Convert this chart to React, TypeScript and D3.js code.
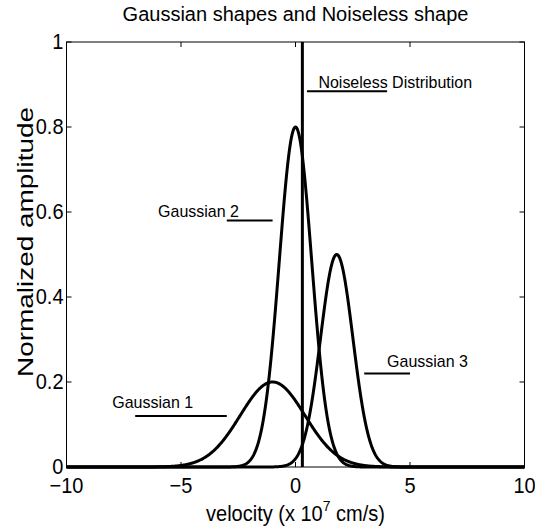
import React from "react";
import * as d3 from "d3";

// ---- data ----
const gaussianNames = ["Gaussian 1", "Gaussian 2", "Gaussian 3"];
const gaussianAmplitudes = [0.2, 0.8, 0.5];
const gaussianCenters = [-1, 0, 1.8];
const gaussianWidths = [2, 1, 1];
const noiselessVelocity = 0.3;
const noiselessAmplitude = 1;

const xTicks = [-10, -5, 0, 5, 10];
const yTicks = [0, 0.2, 0.4, 0.6, 0.8, 1];

// annotation labels (data coords): text anchor and underline segment
const annotationTexts = ["Gaussian 1", "Gaussian 2", "Gaussian 3", "Noiseless Distribution"];
const annotationTextX = [-8, -6, 4, 1];
const annotationTextY = [0.139, 0.588, 0.236, 0.892];
const annotationLineX0 = [-7, -3, 3, 0.5];
const annotationLineX1 = [-3, -1, 5, 4];
const annotationLineY = [0.12, 0.58, 0.22, 0.884];

const W = 535;
const H = 531;
const left = 66.5;
const right = 524.5;
const top = 42;
const bottom = 467;
const FONT = "'Liberation Sans', Arial, Helvetica, sans-serif";

export default function App() {
  const x = d3.scaleLinear().domain([-10, 10]).range([left, right]);
  const y = d3.scaleLinear().domain([0, 1]).range([bottom, top]);

  const samples = d3.range(-10, 10.0001, 0.02);
  const line = d3
    .line<[number, number]>()
    .x((d) => x(d[0]))
    .y((d) => y(d[1]));

  const curves = gaussianNames.map((name, i) => {
    const pts: [number, number][] = samples.map((v) => [
      v,
      gaussianAmplitudes[i] *
        Math.exp(-Math.pow((v - gaussianCenters[i]) / gaussianWidths[i], 2)),
    ]);
    return { name, d: line(pts) || "" };
  });

  const tickLen = 5;
  const fmtY = (v: number) => String(v);
  const fmtX = (v: number) => (v < 0 ? "\u2212" + Math.abs(v) : String(v));
  const sy = 1.1;

  return (
    <svg
      width={W}
      height={H}
      style={{ position: "absolute", left: 0, top: 0, background: "#fff" }}
      fontFamily={FONT}
    >
      <rect x={0} y={0} width={W} height={H} fill="#fff" />
      {/* title */}
      <text x={(left + right) / 2} y={21} fontSize={20} textAnchor="middle" fill="#000">
        Gaussian shapes and Noiseless shape
      </text>

      {/* curves */}
      {curves.map((c) => (
        <path key={c.name} d={c.d} fill="none" stroke="#000" strokeWidth={3} strokeLinejoin="round" />
      ))}
      {/* noiseless distribution */}
      <line
        x1={x(noiselessVelocity)}
        x2={x(noiselessVelocity)}
        y1={y(0)}
        y2={y(noiselessAmplitude)}
        stroke="#000"
        strokeWidth={3}
      />

      {/* annotations */}
      {annotationTexts.map((t, i) => (
        <g key={t}>
          <line
            x1={x(annotationLineX0[i])}
            x2={x(annotationLineX1[i])}
            y1={y(annotationLineY[i])}
            y2={y(annotationLineY[i])}
            stroke="#000"
            strokeWidth={2}
          />
          <text
            transform={`translate(${x(annotationTextX[i])}, ${y(annotationTextY[i])}) scale(1, 1.06)`}
            fontSize={16}
            fill="#000"
          >
            {t}
          </text>
        </g>
      ))}

      {/* axes box */}
      <rect x={left} y={top} width={right - left} height={bottom - top} fill="none" stroke="#000" strokeWidth={1} />
      {xTicks.map((v) => (
        <g key={"x" + v}>
          <line x1={x(v)} x2={x(v)} y1={bottom} y2={bottom - tickLen} stroke="#000" />
          <line x1={x(v)} x2={x(v)} y1={top} y2={top + tickLen} stroke="#000" />
          <text
            transform={`translate(${x(v)}, ${bottom + 26}) scale(1, ${sy})`}
            fontSize={20}
            textAnchor="middle"
            fill="#000"
          >
            {fmtX(v)}
          </text>
        </g>
      ))}
      {yTicks.map((v) => (
        <g key={"y" + v}>
          <line x1={left} x2={left + tickLen} y1={y(v)} y2={y(v)} stroke="#000" />
          <line x1={right} x2={right - tickLen} y1={y(v)} y2={y(v)} stroke="#000" />
          <text
            transform={`translate(${left - 3}, ${y(v) + 7}) scale(1, ${sy})`}
            fontSize={20}
            textAnchor="end"
            fill="#000"
          >
            {fmtY(v)}
          </text>
        </g>
      ))}

      {/* axis labels */}
      <text
        transform={`translate(${(left + right) / 2}, 521) scale(1, ${sy})`}
        fontSize={20}
        textAnchor="middle"
        fill="#000"
      >
        velocity (x 10
        <tspan fontSize={14} dy={-9}>7</tspan>
        <tspan dy={9}> cm/s)</tspan>
      </text>
      <text
        transform={`translate(33, 242) rotate(-90)`}
        fontSize={22}
        textAnchor="middle"
        textLength={270}
        lengthAdjust="spacingAndGlyphs"
        fill="#000"
      >
        Normalized amplitude
      </text>
    </svg>
  );
}
